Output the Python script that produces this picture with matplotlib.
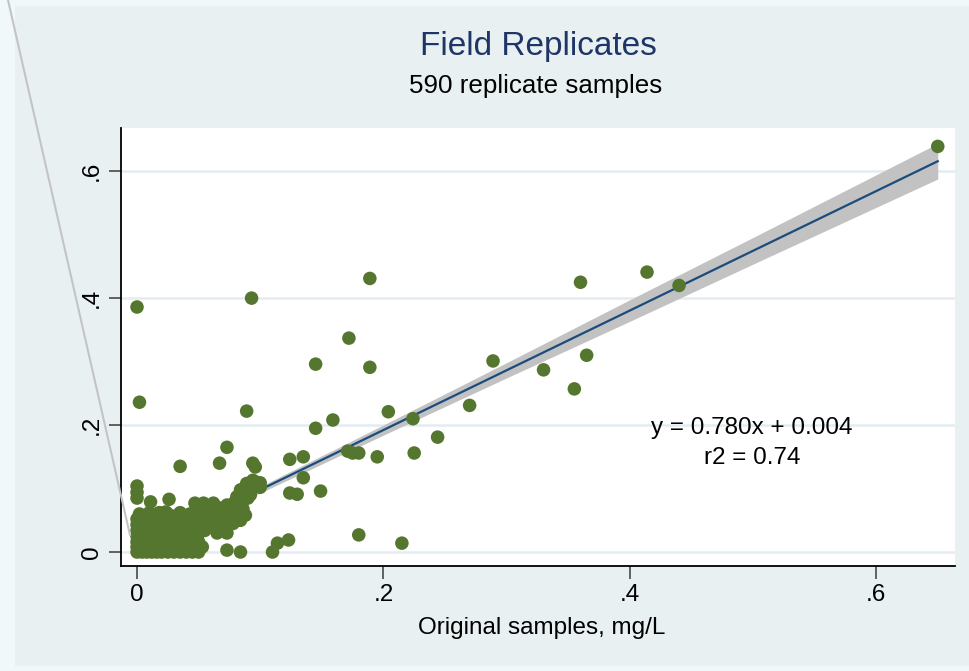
import matplotlib
matplotlib.use("Agg")
import matplotlib.pyplot as plt
from matplotlib.lines import Line2D
from matplotlib.patches import Rectangle

plt.rcParams['font.family'] = ['Liberation Sans', 'DejaVu Sans']

# ---- data -------------------------------------------------------------
# dense group of low concentrations (original, replicate), mg/L
orig_low = [
    0.000, 0.004, 0.008, 0.012, 0.016, 0.020, 0.025, 0.030, 0.035, 0.040, 0.045, 0.050,
    0.000, 0.005, 0.010, 0.015, 0.020, 0.026, 0.031, 0.036, 0.042, 0.047, 0.053,
    0.000, 0.004, 0.009, 0.014, 0.019, 0.024, 0.029, 0.034, 0.039, 0.044, 0.050,
    0.000, 0.005, 0.011, 0.016, 0.021, 0.027, 0.033, 0.038, 0.044, 0.049,
    0.000, 0.006, 0.012, 0.018, 0.024, 0.030, 0.036, 0.041, 0.047, 0.055,
    0.000, 0.007, 0.014, 0.020, 0.026, 0.033, 0.040, 0.046, 0.052,
    0.000, 0.010, 0.016, 0.022, 0.030, 0.038, 0.046, 0.056,
    0.010, 0.018, 0.024, 0.048, 0.058,
    0.003, 0.013, 0.023, 0.034, 0.043, 0.007, 0.017, 0.028, 0.037, 0.002,
    0.041, 0.035, 0.043,
]
repl_low = [
    0.000, 0.000, 0.000, 0.000, 0.000, 0.000, 0.000, 0.000, 0.000, 0.000, 0.000, 0.000,
    0.008, 0.008, 0.008, 0.008, 0.008, 0.008, 0.008, 0.008, 0.008, 0.008, 0.008,
    0.016, 0.016, 0.016, 0.016, 0.016, 0.016, 0.016, 0.016, 0.016, 0.016, 0.016,
    0.025, 0.025, 0.025, 0.025, 0.025, 0.025, 0.025, 0.025, 0.025, 0.025,
    0.034, 0.034, 0.034, 0.034, 0.034, 0.034, 0.034, 0.034, 0.034, 0.034,
    0.043, 0.043, 0.043, 0.043, 0.043, 0.043, 0.043, 0.043, 0.043,
    0.052, 0.052, 0.052, 0.052, 0.052, 0.052, 0.052, 0.052,
    0.062, 0.062, 0.062, 0.062, 0.062,
    0.004, 0.012, 0.021, 0.030, 0.038, 0.047, 0.047, 0.057, 0.057, 0.060,
    0.056, 0.062, 0.060,
]

# rising band of samples between 0.05 and 0.10 mg/L
orig_mid = [
    0.051, 0.062, 0.073, 0.057, 0.067, 0.078, 0.081, 0.084, 0.089, 0.094,
    0.100, 0.092, 0.086, 0.081, 0.084, 0.088, 0.065, 0.073, 0.073, 0.084,
    0.011, 0.026, 0.047, 0.054, 0.051, 0.023, 0.000, 0.000, 0.000, 0.035,
    0.067, 0.073, 0.094, 0.096, 0.089, 0.000, 0.002, 0.093,
    0.055, 0.060, 0.070, 0.075, 0.078, 0.060, 0.068, 0.074, 0.079, 0.083,
    0.088, 0.090, 0.097, 0.100,
    0.062, 0.066, 0.071, 0.076, 0.086, 0.091, 0.058, 0.064,
]
repl_mid = [
    0.074, 0.077, 0.074, 0.061, 0.055, 0.063, 0.071, 0.098, 0.108, 0.113,
    0.102, 0.090, 0.082, 0.087, 0.050, 0.058, 0.030, 0.030, 0.003, 0.000,
    0.079, 0.083, 0.077, 0.077, 0.066, 0.063, 0.104, 0.094, 0.085, 0.135,
    0.140, 0.165, 0.140, 0.134, 0.222, 0.386, 0.236, 0.400,
    0.050, 0.045, 0.048, 0.055, 0.045, 0.068, 0.065, 0.072, 0.078, 0.090,
    0.095, 0.085, 0.110, 0.109,
    0.058, 0.070, 0.062, 0.064, 0.068, 0.100, 0.040, 0.038,
]

# higher concentrations
orig_high = [
    0.110, 0.114, 0.123, 0.124, 0.130, 0.149, 0.135, 0.124, 0.135, 0.145,
    0.159, 0.171, 0.175, 0.180, 0.195, 0.225, 0.244, 0.224, 0.180, 0.215,
    0.204, 0.270, 0.289, 0.330, 0.355, 0.365, 0.360, 0.414, 0.440, 0.650,
    0.189, 0.189, 0.172, 0.145,
]
repl_high = [
    0.000, 0.014, 0.019, 0.093, 0.091, 0.096, 0.117, 0.146, 0.150, 0.195,
    0.208, 0.159, 0.156, 0.156, 0.150, 0.156, 0.181, 0.210, 0.027, 0.014,
    0.221, 0.231, 0.301, 0.287, 0.257, 0.310, 0.425, 0.441, 0.420, 0.639,
    0.431, 0.291, 0.337, 0.296,
]

# fitted line and its confidence band
fit_slope = 0.941
fit_intercept = 0.004
band_x = [0.00, 0.10, 0.20, 0.30, 0.40, 0.50, 0.65]
band_halfwidth = [0.006, 0.005, 0.008, 0.012, 0.017, 0.021, 0.028]

x_ticks = [0.0, 0.2, 0.4, 0.6]
x_tick_labels = ['0', '.2', '.4', '.6']
y_ticks = [0.0, 0.2, 0.4, 0.6]
y_tick_labels = ['0', '.2', '.4', '.6']

title = 'Field Replicates'
subtitle = '590 replicate samples'
x_label = 'Original samples, mg/L'
eq_text = 'y = 0.780x + 0.004'
r2_text = 'r2 = 0.74'

# ---- figure -----------------------------------------------------------
W, H = 970, 671
fig = plt.figure(figsize=(W / 100, H / 100), dpi=100, facecolor='#F0F8FA')
fig.patches.append(Rectangle((15 / W, 1 - 666 / H), (W - 15) / W, 660 / H,
                             transform=fig.transFigure, facecolor='#E8F0F2',
                             edgecolor='none', zorder=-10))

ax = fig.add_axes([121 / W, 1 - 566 / H, (955 - 121) / W, (566 - 128) / H])
ax.set_zorder(1)
ax.set_facecolor('white')
ax.set_xlim(-0.013, 0.664)
ax.set_ylim(-0.022, 0.668)

for side in ('top', 'right'):
    ax.spines[side].set_visible(False)
for side in ('left', 'bottom'):
    ax.spines[side].set_color('black')
    ax.spines[side].set_linewidth(1.3)

ax.set_axisbelow(True)
ax.yaxis.grid(True, color='#E3EDF1', linewidth=1.8)
ax.xaxis.grid(False)

ax.set_xticks(x_ticks)
ax.set_xticklabels(x_tick_labels)
ax.set_yticks(y_ticks)
ax.set_yticklabels(y_tick_labels)
ax.tick_params(axis='both', length=9, width=1.3, color='#555555',
               labelsize=17.5, labelcolor='black')
ax.tick_params(axis='x', pad=4)
ax.tick_params(axis='y', pad=4, labelrotation=90)
for lab in ax.get_yticklabels():
    lab.set_va('center')

# confidence band and fit line
band_y = [fit_slope * bx + fit_intercept for bx in band_x]
ax.fill_between(band_x,
                [by - hw for by, hw in zip(band_y, band_halfwidth)],
                [by + hw for by, hw in zip(band_y, band_halfwidth)],
                color='#C2C2C2', linewidth=0, zorder=2)
ax.plot([band_x[0], band_x[-1]],
        [fit_slope * band_x[0] + fit_intercept, fit_slope * band_x[-1] + fit_intercept],
        color='#1B4C7C', linewidth=1.6, zorder=2.5)

# sample points
pt_color = '#55762E'
for xs, ys in ((orig_low, repl_low), (orig_mid, repl_mid), (orig_high, repl_high)):
    ax.scatter(xs, ys, s=95, color=pt_color, edgecolors='none', zorder=3)

ax.text(0.4994, 0.195, eq_text, fontsize=17.5, ha='center', va='center')
ax.text(0.4994, 0.148, r2_text, fontsize=17.5, ha='center', va='center')

fig.text(538.5 / W, 1 - 47 / H, title, color='#1F3566', fontsize=24,
         ha='center', va='center')
fig.text(536 / W, 1 - 86 / H, subtitle, color='black', fontsize=18.7,
         ha='center', va='center')
fig.text(542 / W, 1 - 628 / H, x_label, color='black', fontsize=17.5,
         ha='center', va='center')

# thin grey stroke across the left margin
fig.add_artist(Line2D([8 / W, 130 / W], [1.0, 1 - 535 / H], color='#C4C4C4',
                      linewidth=1.5, transform=fig.transFigure, zorder=5))

fig.savefig('out.png', dpi=100, facecolor=fig.get_facecolor())
